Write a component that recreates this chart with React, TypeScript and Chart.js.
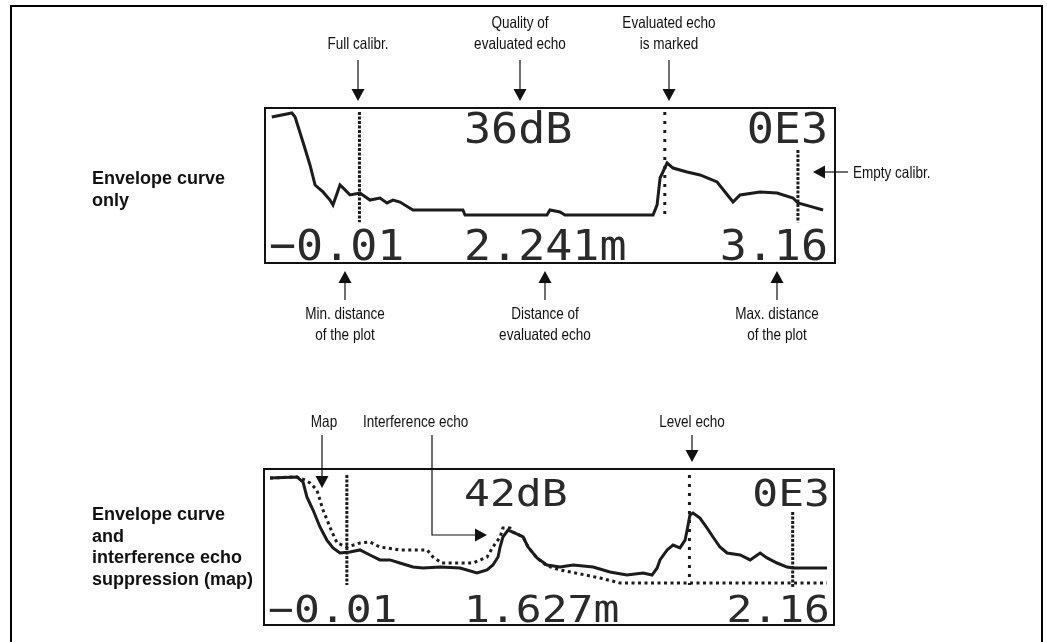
import React, { useEffect, useRef } from "react";
import { Chart, registerables } from "chart.js";

Chart.register(...registerables);

// ---------------- Panel 1: envelope curve only ----------------
const P1_TICKS = ["\u22120.01", "2.241m", "3.16"]; // min distance, evaluated distance, max distance
const P1_RANGE = [-0.01, 3.16];
const P1_HEADER = ["36dB", "0E3"]; // echo quality, status code

const ENV1_X = [0.0, 0.115, 0.133, 0.178, 0.218, 0.247, 0.292, 0.332, 0.349, 0.389, 0.418, 0.446, 0.503, 0.56, 0.617, 0.657, 0.691, 0.731, 0.805, 1.09, 1.102, 1.569, 1.586, 1.643, 1.672, 2.174, 2.197, 2.214, 2.254, 2.288, 2.368, 2.442, 2.539, 2.63, 2.67, 2.784, 2.881, 2.972, 3.0, 3.086, 3.143];
const ENV1_Y = [94.8, 97.4, 94.8, 78.4, 63.4, 50.3, 45.8, 40.5, 37.3, 50.3, 47.1, 43.8, 45.1, 40.5, 41.8, 38.6, 40.5, 39.2, 34.0, 34.0, 30.7, 30.7, 34.0, 32.7, 30.7, 30.7, 37.3, 54.9, 64.7, 61.4, 58.8, 56.9, 52.3, 39.2, 43.8, 45.8, 45.1, 41.8, 38.6, 35.9, 34.0];

// markers: full calibr., evaluated echo, empty calibr.
const MARK1_X = [0.5, 2.241, 3.0];
const MARK1_TOP = [98, 98, 73.2];
const MARK1_BOTTOM = [26, 30.7, 26];

// ---------------- Panel 2: envelope + interference echo suppression ----------------
const P2_TICKS = ["\u22120.01", "1.627m", "2.16"];
const P2_RANGE = [-0.01, 2.16];
const P2_HEADER = ["42dB", "0E3"];

const ENV2_X = [-0.01, 0.095, 0.119, 0.134, 0.158, 0.185, 0.212, 0.236, 0.263, 0.302, 0.341, 0.38, 0.419, 0.458, 0.497, 0.548, 0.587, 0.654, 0.732, 0.798, 0.837, 0.86, 0.88, 0.888, 0.899, 0.919, 0.938, 0.978, 0.997, 1.032, 1.071, 1.122, 1.173, 1.251, 1.317, 1.383, 1.446, 1.481, 1.501, 1.512, 1.54, 1.563, 1.59, 1.61, 1.618, 1.629, 1.641, 1.668, 1.696, 1.719, 1.746, 1.774, 1.825, 1.864, 1.903, 1.93, 1.969, 2.008, 2.031, 2.164];
const ENV2_Y = [94.8, 95.5, 92.2, 82.5, 74.0, 63.0, 54.5, 49.4, 46.1, 46.8, 48.1, 44.8, 41.6, 41.6, 39.6, 37.0, 36.4, 37.0, 36.4, 33.1, 35.1, 38.3, 43.5, 50.0, 56.5, 61.0, 59.7, 56.5, 50.0, 42.9, 38.3, 37.0, 38.3, 37.0, 33.8, 31.8, 33.1, 31.8, 36.4, 41.6, 48.1, 51.3, 49.4, 54.5, 61.0, 70.8, 72.1, 68.8, 62.3, 56.5, 50.0, 46.1, 44.8, 41.6, 46.1, 42.9, 39.6, 37.0, 36.4, 36.4];

const MAP2_X = [-0.01, 0.095, 0.127, 0.146, 0.173, 0.185, 0.197, 0.232, 0.252, 0.291, 0.341, 0.38, 0.419, 0.497, 0.603, 0.626, 0.661, 0.782, 0.837, 0.86, 0.888, 0.899, 0.927, 0.938, 0.978, 0.997, 1.032, 1.071, 1.122, 1.278, 1.356, 2.164];
const MAP2_Y = [94.8, 95.5, 93.5, 91.6, 87.0, 80.5, 74.0, 59.7, 52.6, 50.0, 52.6, 53.2, 50.0, 48.1, 48.1, 43.5, 39.6, 39.6, 43.5, 50.0, 56.5, 62.3, 62.3, 59.7, 56.5, 50.0, 42.9, 37.7, 35.1, 29.9, 26.6, 26.6];

// markers: full calibr., level echo, empty calibr.
const MARK2_X = [0.29, 1.627, 2.03];
const MARK2_TOP = [96.8, 96.8, 72.7];
const MARK2_BOTTOM = [25.3, 25.3, 23.4];

const INK = "#1c1c1c";
const W = 1047;

type Ann = (ctx: CanvasRenderingContext2D) => void;

function label(ctx: CanvasRenderingContext2D, text: string, x: number, y: number, align: CanvasTextAlign) {
  ctx.save();
  ctx.font = '16.5px "Liberation Sans", Arial, sans-serif';
  ctx.fillStyle = "#111";
  ctx.textAlign = align;
  ctx.textBaseline = "alphabetic";
  ctx.translate(x, y);
  ctx.scale(0.82, 1);
  ctx.fillText(text, 0, 0);
  ctx.restore();
}

function boldLines(ctx: CanvasRenderingContext2D, lines: string[], x: number, y: number, lh: number) {
  ctx.save();
  ctx.font = 'bold 18px "Liberation Sans", Arial, sans-serif';
  ctx.fillStyle = "#111";
  ctx.textAlign = "left";
  lines.forEach((t, i) => ctx.fillText(t, x, y + i * lh));
  ctx.restore();
}

function arrow(ctx: CanvasRenderingContext2D, pts: number[][]) {
  ctx.save();
  ctx.strokeStyle = "#111";
  ctx.fillStyle = "#111";
  ctx.lineWidth = 1.2;
  const n = pts.length;
  const [tx, ty] = pts[n - 1];
  const [px, py] = pts[n - 2];
  const ang = Math.atan2(ty - py, tx - px);
  const len = 12, hw = 6.5;
  ctx.beginPath();
  ctx.moveTo(pts[0][0], pts[0][1]);
  for (let i = 1; i < n - 1; i++) ctx.lineTo(pts[i][0], pts[i][1]);
  ctx.lineTo(tx - Math.cos(ang) * len, ty - Math.sin(ang) * len);
  ctx.stroke();
  ctx.beginPath();
  ctx.moveTo(tx, ty);
  ctx.lineTo(tx - Math.cos(ang) * len - Math.sin(ang) * hw, ty - Math.sin(ang) * len + Math.cos(ang) * hw);
  ctx.lineTo(tx - Math.cos(ang) * len + Math.sin(ang) * hw, ty - Math.sin(ang) * len - Math.cos(ang) * hw);
  ctx.closePath();
  ctx.fill();
  ctx.restore();
}

type PanelCfg = {
  canvasTop: number;
  canvasH: number;
  area: { left: number; top: number; right: number; bottom: number }; // page coords of LCD interior
  inkX: [number, number]; // page x of min / max tick positions
  range: number[];
  ticks: string[];
  header: string[];
  fontPx: number;
  scaleY: number;
  topBase: number;
  botBase: number;
  midX: number;
  leftX: number;
  rightX: number;
  datasets: any[];
  ann: Ann;
};

function lcdText(ctx: CanvasRenderingContext2D, t: string, x: number, y: number, align: CanvasTextAlign, sy: number) {
  ctx.save();
  ctx.translate(x, y);
  ctx.scale(1, sy);
  ctx.textAlign = align;
  ctx.fillText(t, 0, 0);
  ctx.restore();
}

function makePlugin(cfg: PanelCfg) {
  return {
    id: "lcdDecor",
    afterDraw(chart: any) {
      const ctx: CanvasRenderingContext2D = chart.ctx;
      const a = chart.chartArea;
      ctx.save();
      ctx.font = `${cfg.fontPx}px "DejaVu Sans Mono", monospace`;
      ctx.fillStyle = "#2a2a2a";
      ctx.textBaseline = "alphabetic";
      const sy = cfg.scaleY;
      lcdText(ctx, cfg.header[0], a.left + cfg.midX, a.top + cfg.topBase, "left", sy);
      lcdText(ctx, cfg.ticks[0], a.left + cfg.leftX, a.bottom - cfg.botBase, "left", sy);
      lcdText(ctx, cfg.ticks[1], a.left + cfg.midX, a.bottom - cfg.botBase, "left", sy);
      lcdText(ctx, cfg.header[1], a.right - cfg.rightX, a.top + cfg.topBase, "right", sy);
      lcdText(ctx, cfg.ticks[2], a.right - cfg.rightX, a.bottom - cfg.botBase, "right", sy);
      ctx.lineWidth = 2;
      ctx.strokeStyle = "#111";
      ctx.strokeRect(a.left - 1, a.top - 1, a.right - a.left + 2, a.bottom - a.top + 2);
      ctx.restore();
      ctx.save();
      ctx.translate(0, -cfg.canvasTop);
      cfg.ann(ctx);
      ctx.restore();
    },
  };
}

function pts(xs: number[], ys: number[]) {
  return xs.map((x, i) => ({ x, y: ys[i] }));
}

function markerSets(xs: number[], tops: number[], bots: number[], dashes: number[][]) {
  return xs.map((x, i) => ({
    data: [
      { x, y: tops[i] },
      { x, y: bots[i] },
    ],
    borderColor: INK,
    borderWidth: 3,
    borderDash: dashes[i],
    pointRadius: 0,
    borderCapStyle: "butt",
  }));
}

function LcdChart({ cfg }: { cfg: PanelCfg }) {
  const ref = useRef<HTMLCanvasElement>(null);
  useEffect(() => {
    const { area, inkX, range, canvasTop, canvasH } = cfg;
    const unit = (inkX[1] - inkX[0]) / (range[1] - range[0]);
    const min = range[0] - (inkX[0] - area.left) / unit;
    const max = range[1] + (area.right - inkX[1]) / unit;
    const chart = new Chart(ref.current as HTMLCanvasElement, {
      type: "line",
      data: { datasets: cfg.datasets },
      options: {
        animation: false,
        responsive: false,
        events: [],
        layout: {
          padding: {
            left: area.left,
            right: W - area.right,
            top: area.top - canvasTop,
            bottom: canvasTop + canvasH - area.bottom,
          },
        },
        plugins: { legend: { display: false }, tooltip: { enabled: false } },
        scales: {
          x: { type: "linear", display: false, min, max },
          y: { type: "linear", display: false, min: 0, max: 100 },
        },
        elements: { line: { tension: 0, borderJoinStyle: "miter" }, point: { radius: 0 } },
      } as any,
      plugins: [makePlugin(cfg)],
    });
    return () => chart.destroy();
  }, []);
  return (
    <canvas
      ref={ref}
      width={W}
      height={cfg.canvasH}
      style={{ position: "absolute", left: 0, top: cfg.canvasTop, width: W, height: cfg.canvasH }}
    />
  );
}

const panel1: PanelCfg = {
  canvasTop: 0,
  canvasH: 390,
  area: { left: 266, top: 109, right: 834, bottom: 262 },
  inkX: [270, 826],
  range: P1_RANGE,
  ticks: P1_TICKS,
  header: P1_HEADER,
  fontPx: 45,
  scaleY: 0.96,
  topBase: 34,
  botBase: 2,
  midX: 198,
  leftX: 3,
  rightX: 6,
  datasets: [
    {
      data: pts(ENV1_X, ENV1_Y),
      borderColor: INK,
      borderWidth: 3,
      pointRadius: 0,
    },
    ...markerSets(MARK1_X, MARK1_TOP, MARK1_BOTTOM, [[3, 1.5], [3, 6], [3, 1.5]]),
  ],
  ann: (ctx) => {
    label(ctx, "Full calibr.", 358, 49, "center");
    arrow(ctx, [[358, 60], [358, 101]]);
    label(ctx, "Quality of", 520, 28, "center");
    label(ctx, "evaluated echo", 520, 49, "center");
    arrow(ctx, [[520, 60], [520, 101]]);
    label(ctx, "Evaluated echo", 669, 28, "center");
    label(ctx, "is marked", 669, 49, "center");
    arrow(ctx, [[669, 60], [669, 101]]);
    arrow(ctx, [[848, 172], [813, 172]]);
    label(ctx, "Empty calibr.", 853, 178, "left");
    label(ctx, "Min. distance", 345, 319, "center");
    label(ctx, "of the plot", 345, 340, "center");
    arrow(ctx, [[345, 300], [345, 271]]);
    label(ctx, "Distance of", 545, 319, "center");
    label(ctx, "evaluated echo", 545, 340, "center");
    arrow(ctx, [[545, 300], [545, 271]]);
    label(ctx, "Max. distance", 777, 319, "center");
    label(ctx, "of the plot", 777, 340, "center");
    arrow(ctx, [[777, 300], [777, 271]]);
    boldLines(ctx, ["Envelope curve", "only"], 92, 184, 21.5);
  },
};

const panel2: PanelCfg = {
  canvasTop: 390,
  canvasH: 252,
  area: { left: 265, top: 470, right: 833, bottom: 624 },
  inkX: [270, 826],
  range: P2_RANGE,
  ticks: P2_TICKS,
  header: P2_HEADER,
  fontPx: 43,
  scaleY: 0.88,
  topBase: 36,
  botBase: 2,
  midX: 199,
  leftX: 3,
  rightX: 3,
  datasets: [
    {
      data: pts(MAP2_X, MAP2_Y),
      borderColor: INK,
      borderWidth: 3,
      borderDash: [3, 3.5],
      pointRadius: 0,
    },
    {
      data: pts(ENV2_X, ENV2_Y),
      borderColor: INK,
      borderWidth: 3,
      pointRadius: 0,
    },
    ...markerSets(MARK2_X, MARK2_TOP, MARK2_BOTTOM, [[3, 1.5], [3, 6], [3, 1.5]]),
  ],
  ann: (ctx) => {
    label(ctx, "Map", 324, 427, "center");
    arrow(ctx, [[322, 435], [322, 488]]);
    label(ctx, "Interference echo", 363, 427, "left");
    arrow(ctx, [[432, 435], [432, 535], [487, 535]]);
    label(ctx, "Level echo", 692, 427, "center");
    arrow(ctx, [[692, 435], [692, 462]]);
    boldLines(ctx, ["Envelope curve", "and", "interference echo", "suppression (map)"], 92, 520, 21.7);
  },
};

export default function App() {
  return (
    <div
      style={{
        position: "absolute",
        left: 0,
        top: 0,
        width: W,
        height: 642,
        overflow: "hidden",
        background: "#fff",
      }}
    >
      <LcdChart cfg={panel1} />
      <LcdChart cfg={panel2} />
      <div
        style={{
          position: "absolute",
          left: 10,
          top: 5,
          width: 1033,
          height: 800,
          border: "2px solid #000",
          boxSizing: "border-box",
          pointerEvents: "none",
        }}
      />
    </div>
  );
}
